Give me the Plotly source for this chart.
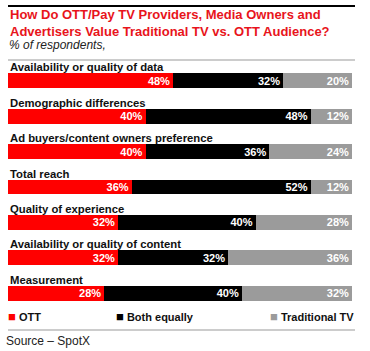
import plotly.graph_objects as go

categories = [
    "Availability or quality of data",
    "Demographic differences",
    "Ad buyers/content owners preference",
    "Total reach",
    "Quality of experience",
    "Availability or quality of content",
    "Measurement",
]
ott = [48, 40, 40, 36, 32, 32, 28]
both = [32, 48, 36, 52, 40, 32, 40]
trad = [20, 12, 24, 12, 28, 36, 32]
series_names = ["OTT", "Both equally", "Traditional TV"]
colors = ["#ff0000", "#000000", "#9b9b9b"]

ypos = list(range(len(categories)))

fig = go.Figure()
for name, vals, col in zip(series_names, [ott, both, trad], colors):
    fig.add_trace(go.Bar(
        name=name, x=vals, y=ypos, orientation="h",
        marker=dict(color=col, line=dict(width=0)),
        width=0.42,
        text=[f"{v}%" for v in vals],
        textposition="inside", insidetextanchor="end",
        textfont=dict(color="white", size=11, family="Liberation Sans"),
        texttemplate="<b>%{text}</b>",
        showlegend=False, hoverinfo="skip",
    ))

W, H = 370, 351
L, R, T, B = 8, 18, 63, 40
pw, ph = W - L - R, H - T - B

def px(x):
    return (x - L) / pw

def py(y):
    return (H - B - y) / ph

annotations = []
for i, c in enumerate(categories):
    annotations.append(dict(
        x=0, xref="paper", y=i, yref="y", yshift=13.5,
        text=f"<b>{c}</b>", showarrow=False, xanchor="left", yanchor="middle",
        font=dict(size=11.3, color="#111111", family="Liberation Sans Narrow, Liberation Sans"),
    ))

annotations += [
    dict(x=px(8), y=py(23), xref="paper", yref="paper", xanchor="left", yanchor="middle",
         text="<b>How Do OTT/Pay TV Providers, Media Owners and<br>Advertisers Value Traditional TV vs. OTT Audience?</b>",
         showarrow=False, align="left",
         font=dict(size=13, color="#e8141b", family="Liberation Sans")),
    dict(x=px(7), y=py(45), xref="paper", yref="paper", xanchor="left", yanchor="middle",
         text="<i>% of respondents,</i>", showarrow=False,
         font=dict(size=12, color="#222222", family="Liberation Sans")),
    dict(x=px(4), y=py(341), xref="paper", yref="paper", xanchor="left", yanchor="middle",
         text="Source – SpotX", showarrow=False,
         font=dict(size=12, color="#222222", family="Liberation Sans")),
]

legend_x = [8, 116, 270]
for name, col, lx in zip(series_names, colors, legend_x):
    annotations.append(dict(
        x=px(lx - 2), y=py(316), xref="paper", yref="paper", xanchor="left", yanchor="middle",
        text=f"<span style='color:{col};font-size:13px'>■</span> <b>{name}</b>", showarrow=False,
        font=dict(size=11, color="#111111", family="Liberation Sans"),
    ))

shapes = [
    dict(type="line", xref="paper", yref="paper", x0=px(8), x1=px(355), y0=py(6), y1=py(6),
         line=dict(color="#000000", width=2)),
    dict(type="line", xref="paper", yref="paper", x0=px(8), x1=px(355), y0=py(60), y1=py(60),
         line=dict(color="#999999", width=1)),
    dict(type="line", xref="paper", yref="paper", x0=px(8), x1=px(355), y0=py(330), y1=py(330),
         line=dict(color="#999999", width=1)),
]

fig.update_layout(
    barmode="stack",
    width=W, height=H,
    margin=dict(l=L, r=R, t=T, b=B, pad=0),
    paper_bgcolor="white", plot_bgcolor="white",
    xaxis=dict(range=[0, 100], visible=False, fixedrange=True),
    yaxis=dict(range=[len(categories) - 0.5, -0.5], visible=False, fixedrange=True),
    annotations=annotations, shapes=shapes,
    showlegend=False,
    uniformtext=dict(minsize=10, mode="show"),
)

fig.write_html("out.html")
